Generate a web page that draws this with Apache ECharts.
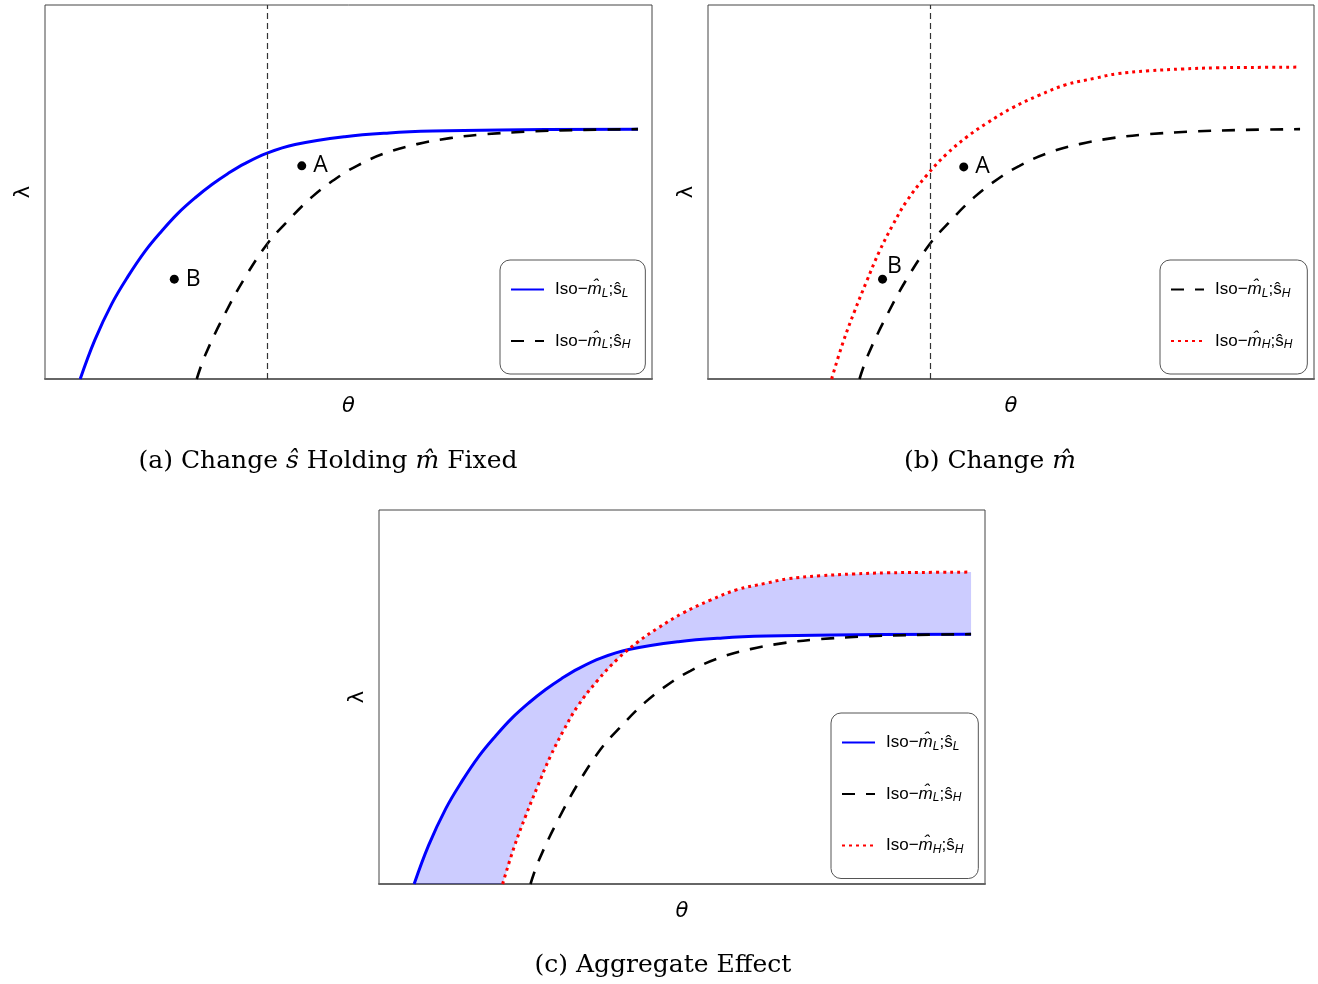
<!DOCTYPE html>
<html>
<head>
<meta charset="utf-8">
<title>Iso curves</title>
<script src="https://cdn.jsdelivr.net/npm/echarts@6/dist/echarts.min.js"></script>
<style>
  html, body { margin: 0; padding: 0; background: #fff; }
  #chart { width: 1318px; height: 984px; }
</style>
</head>
<body>
<div id="chart"></div>
<script>
// curves, theta and lambda both on a 0-100 scale
const isoLLTheta = [5.8, 8.2, 11.0, 13.7, 16.5, 19.3, 21.9, 24.7, 27.5, 30.1, 32.9, 36.6, 41.2, 49.4, 56.7, 63.9, 75.0, 97.7]
const isoLLLambda = [0, 10.4, 20.1, 27.5, 34.2, 39.7, 44.3, 48.4, 52.0, 54.9, 57.6, 60.4, 62.7, 64.8, 65.8, 66.3, 66.6, 66.8]

const isoLHTheta = [25.0, 26.4, 29.7, 32.9, 36.6, 39.5, 44.0, 48.3, 51.4, 55.7, 61.3, 66.7, 72.2, 80.4, 88.6, 97.7]
const isoLHLambda = [0, 6.4, 17.6, 27.0, 36.1, 41.4, 48.7, 54.0, 57.0, 60.2, 62.8, 64.4, 65.4, 66.2, 66.6, 66.8]

const isoHHTheta = [20.4, 22.2, 24.2, 26.2, 28.3, 30.5, 32.8, 36.1, 39.4, 42.7, 46.0, 50.2, 54.7, 59.1, 64.1, 67.4, 72.8, 78.3, 83.9, 89.3, 97.7]
const isoHHLambda = [0, 9.4, 18.2, 26.2, 34.2, 41.2, 47.6, 54.5, 60.2, 64.7, 68.4, 72.5, 75.9, 78.7, 80.5, 81.6, 82.4, 82.9, 83.2, 83.3, 83.4]

const vLineTheta = 36.6

const pointNames = ['A', 'B']
const pointsThetaA = [42.3, 21.3]   // panel (a)
const pointsLambdaA = [57.0, 26.7]
const pointsThetaB = [42.2, 28.8]   // panel (b)
const pointsLambdaB = [56.7, 26.7]

const legendSubs = { LL: ['L', 'L'], LH: ['L', 'H'], HH: ['H', 'H'] }

const chart = echarts.init(document.getElementById('chart'))

const grids = [
  { left: 45, top: 5, width: 607, height: 374 },
  { left: 708, top: 5, width: 606, height: 374 },
  { left: 379, top: 510, width: 606, height: 374 }
]

const styles = {
  LL: { color: '#0000ff', width: 3, type: 'solid' },
  LH: { color: '#000', width: 2.6, type: [13, 11] },
  HH: { color: '#ff0000', width: 3, type: [3, 4] }
}
const arrays = {
  LL: [isoLLTheta, isoLLLambda],
  LH: [isoLHTheta, isoLHLambda],
  HH: [isoHHTheta, isoHHLambda]
}

function curve(name, g) {
  const [th, la] = arrays[name]
  return {
    type: 'line',
    name: name,
    xAxisIndex: g,
    yAxisIndex: g,
    data: th.map((t, i) => [t, la[i]]),
    smooth: 0.4,
    symbol: 'none',
    lineStyle: styles[name],
    itemStyle: { color: styles[name].color },
    z: 3
  }
}

function vline() {
  return {
    silent: true,
    symbol: ['none', 'none'],
    label: { show: false },
    lineStyle: { color: '#333', width: 1.2, type: [6, 4] },
    data: [{ xAxis: vLineTheta }]
  }
}

function points(g, th, la, bLabel) {
  return {
    type: 'scatter',
    xAxisIndex: g,
    yAxisIndex: g,
    symbolSize: 9,
    itemStyle: { color: '#000', opacity: 1 },
    label: {
      show: true,
      formatter: '{b}',
      position: 'right',
      distance: 7,
      fontSize: 23,
      fontFamily: 'Open Sans',
      color: '#000'
    },
    data: th.map((t, i) => {
      const item = { name: pointNames[i], value: [t, la[i]] }
      if (pointNames[i] === 'B' && bLabel) item.label = bLabel
      return item
    }),
    z: 4
  }
}

function legendText(name) {
  const s = legendSubs[name]
  return '{t|Iso\u2212}{m|m\u0302}{sub|' + s[0] + '}{t2|;\u015d}{sub|' + s[1] + '}'
}

const legendBase = {
  orient: 'vertical',
  itemWidth: 33,
  itemHeight: 14,
  itemGap: 33,
  padding: [21, 15, 23, 10],
  borderColor: '#555',
  borderWidth: 1,
  borderRadius: 10,
  selectedMode: false,
  formatter: legendText,
  itemStyle: { opacity: 0 },
  textStyle: {
    color: '#000',
    rich: {
      t: { fontSize: 17, fontFamily: 'Liberation Sans', padding: [0, 0, 0, 6] },
      t2: { fontSize: 17, fontFamily: 'Liberation Sans' },
      m: { fontSize: 17, fontFamily: 'Liberation Sans', fontStyle: 'italic' },
      sub: { fontSize: 12, fontFamily: 'Liberation Sans', fontStyle: 'italic', padding: [8, 0, 0, 0] }
    }
  }
}

const fill = {
  type: 'custom',
  xAxisIndex: 2,
  yAxisIndex: 2,
  silent: true,
  data: [[0, 0]],
  z: 1,
  renderItem(params, api) {
    const pts = isoLLTheta.map((t, i) => api.coord([t, isoLLLambda[i]]))
    for (let i = isoHHTheta.length - 1; i >= 0; i--) {
      pts.push(api.coord([isoHHTheta[i], isoHHLambda[i]]))
    }
    return {
      type: 'polygon',
      shape: { points: pts },
      style: { fill: 'rgba(0,0,255,0.2)', stroke: 'none' }
    }
  }
}

const caption = (x, y, text) => ({
  type: 'text',
  x: x,
  y: y,
  style: {
    text: text,
    align: 'center',
    verticalAlign: 'middle',
    fontSize: 25,
    fontFamily: 'DejaVu Serif',
    fill: '#000',
    rich: {
      i: { fontSize: 25, fontFamily: 'DejaVu Serif', fontStyle: 'italic' }
    }
  }
})

chart.setOption({
  animation: false,
  grid: grids.map(g => Object.assign({ show: true, borderColor: '#444', borderWidth: 1 }, g)),
  xAxis: grids.map((g, i) => ({
    gridIndex: i,
    type: 'value',
    min: 0,
    max: 100,
    name: '\u03b8',
    nameLocation: 'middle',
    nameGap: 17,
    nameTextStyle: { fontSize: 21, fontStyle: 'italic', fontFamily: 'DejaVu Sans', color: '#000' },
    axisLine: { show: true, lineStyle: { color: '#666', width: 2 } },
    axisTick: { show: false },
    axisLabel: { show: false },
    splitLine: { show: false }
  })),
  yAxis: grids.map((g, i) => ({
    gridIndex: i,
    type: 'value',
    min: 0,
    max: 100,
    name: '\u03bb',
    nameLocation: 'middle',
    nameRotate: 90,
    nameGap: 11,
    nameTextStyle: { fontSize: 21, fontFamily: 'DejaVu Sans', color: '#000' },
    axisLine: { show: false },
    axisTick: { show: false },
    axisLabel: { show: false },
    splitLine: { show: false }
  })),
  legend: [
    Object.assign({}, legendBase, { data: ['LL', 'LH'], left: 500, top: 260 }),
    Object.assign({}, legendBase, { data: ['LH', 'HH'], left: 1160, top: 260 }),
    Object.assign({}, legendBase, { data: ['LL', 'LH', 'HH'], left: 831, top: 713 })
  ],
  series: [
    // (a) change s holding m fixed
    curve('LL', 0),
    Object.assign(curve('LH', 0), { markLine: vline() }),
    points(0, pointsThetaA, pointsLambdaA),
    // (b) change m
    Object.assign(curve('LH', 1), { markLine: vline() }),
    curve('HH', 1),
    points(1, pointsThetaB, pointsLambdaB, { distance: 0, offset: [0, -13] }),
    // (c) aggregate effect
    fill,
    curve('LL', 2),
    curve('LH', 2),
    curve('HH', 2)
  ],
  graphic: [
    caption(328, 461, '(a) Change {i|\u015d} Holding {i|m\u0302} Fixed'),
    caption(990, 461, '(b) Change {i|m\u0302}'),
    caption(663, 965, '(c) Aggregate Effect')
  ]
})
</script>
</body>
</html>
